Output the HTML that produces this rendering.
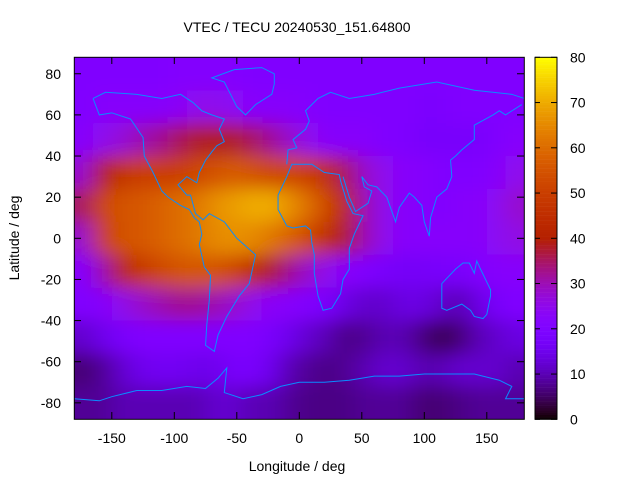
<!DOCTYPE html>
<html><head><meta charset="utf-8"><style>
body{margin:0;background:#fff;}
svg{display:block;font-family:"Liberation Sans",sans-serif;}
</style></head><body>
<svg id="chart" width="640" height="480" xmlns="http://www.w3.org/2000/svg">
<defs>
<filter id="soft" x="-20%" y="-20%" width="140%" height="140%"><feGaussianBlur stdDeviation="11 9"/></filter>
<clipPath id="plotclip"><rect x="74.3" y="57.3" width="450" height="362"/></clipPath>
</defs>
<rect width="640" height="480" fill="#fff"/>
<text x="297" y="32" font-size="14" text-anchor="middle">VTEC / TECU 20240530_151.64800</text>
<g clip-path="url(#plotclip)"><g id="cells" filter="url(#soft)"></g></g>
<g id="coast" fill="none" stroke="#0a8cff" stroke-width="1"></g>
<rect x="74.3" y="57.3" width="450" height="362" fill="none" stroke="#000"/>
<g id="axes" font-size="14"></g>
<g id="cbar"></g>
<text x="297" y="471" font-size="14" text-anchor="middle">Longitude / deg</text>
<text transform="translate(19,238) rotate(-90)" font-size="14" text-anchor="middle">Latitude / deg</text>
</svg>
<script>
const lonCenters=[-172.5,-157.5,-142.5,-127.5,-112.5,-97.5,-82.5,-67.5,-52.5,-37.5,-22.5,-7.5,7.5,22.5,37.5,52.5,67.5,82.5,97.5,112.5,127.5,142.5,157.5,172.5];
const latCenters=[80,64,48,32,16,0,-16,-32,-48,-64,-80];
const vtec=[
[20,20,20,20,20,21,21,21,21,20,20,20,20,20,20,20,20,20,20,20,20,20,20,20],
[20,22,22,22,22,23,25,25,24,22,22,22,21,20,20,20,20,20,19,19,20,20,20,20],
[22,25,27,30,32,35,38,38,38,35,32,28,25,22,22,22,20,20,18,18,18,18,20,22],
[28,40,47,50,50,50,52,55,57,55,52,52,50,45,35,28,25,22,22,20,20,20,22,25],
[35,52,55,56,58,60,62,66,68,70,70,66,60,52,42,30,25,22,22,20,22,22,24,28],
[28,50,55,56,58,60,62,65,66,65,62,58,52,45,38,30,25,22,22,22,22,22,24,26],
[22,30,42,48,52,55,56,55,52,45,38,32,28,25,22,20,18,17,17,18,18,20,22,22],
[20,22,25,28,30,32,32,30,28,25,23,22,20,18,14,12,12,14,14,12,10,14,18,20],
[12,15,18,20,20,20,20,20,20,20,18,15,12,10,7,8,10,10,7,4,6,10,12,14],
[6,8,12,15,16,16,15,15,18,18,15,10,8,7,8,10,12,12,10,10,12,12,12,10],
[8,8,10,10,10,10,10,12,12,10,10,8,7,7,7,8,8,8,6,6,7,8,8,8]];
const xTicks=[-150,-100,-50,0,50,100,150];
const yTicks=[80,60,40,20,0,-20,-40,-60,-80];
const cbTicks=[0,10,20,30,40,50,60,70,80];
const NS="http://www.w3.org/2000/svg";
const X=lon=>74.3+(lon+180)*450/360;
const Y=lat=>57.3+(88-lat)*362/176;
const CB=v=>419.3-v/80*362;
function pal(v){let x=Math.max(0,Math.min(1,v/80));
 let r=Math.sqrt(x),g=x*x*x,b=Math.max(0,Math.sin(2*Math.PI*x));
 return `rgb(${Math.round(r*255)},${Math.round(g*255)},${Math.round(b*255)})`;}
function mk(tag,at,parent){const e=document.createElementNS(NS,tag);for(const k in at)e.setAttribute(k,at[k]);parent.appendChild(e);return e;}
const cells=document.getElementById('cells');
const PAD=40;
latCenters.forEach((lat,i)=>lonCenters.forEach((lon,j)=>{
 let x0=X(lon-7.5),x1=X(lon+7.5)+0.5,y0=Y(lat+8),y1=Y(lat-8)+0.5;
 if(j===0)x0-=PAD; if(j===lonCenters.length-1)x1+=PAD;
 if(i===0)y0-=PAD; if(i===latCenters.length-1)y1+=PAD;
 const r=mk('rect',{x:x0,y:y0,width:x1-x0,height:y1-y0,fill:pal(vtec[i][j])},cells);
 
 
}));
const coastLines=[
[[-165,68],[-160,60],[-150,61],[-135,58],[-125,49],[-124,40],[-117,32],[-110,23],[-105,20],[-95,16],[-88,14],[-84,10],[-80,8],[-78,2],[-80,-3],[-76,-14],[-71,-18],[-72,-30],[-74,-42],[-75,-52],[-68,-55],[-65,-47],[-58,-38],[-48,-28],[-40,-22],[-35,-8],[-50,0],[-60,8],[-72,12],[-77,9],[-83,12],[-87,21],[-90,21],[-97,26],[-90,30],[-82,27],[-80,32],[-75,38],[-70,42],[-66,45],[-60,47],[-64,53],[-60,58],[-70,60],[-78,62],[-85,66],[-95,70],[-110,68],[-130,70],[-155,71],[-165,68]],
[[-17,21],[-17,14],[-10,6],[-5,5],[5,6],[9,4],[10,-2],[12,-8],[12,-17],[15,-28],[19,-35],[26,-34],[33,-27],[35,-20],[40,-15],[40,-5],[44,2],[51,11],[43,12],[38,18],[33,28],[32,31],[20,32],[10,36],[0,36],[-6,36],[-10,30],[-17,21]],
[[-10,36],[-9,43],[-2,44],[-5,48],[5,53],[8,57],[5,62],[15,68],[25,71],[40,68],[60,70],[80,73],[110,76],[140,72],[170,70],[180,68]],
[[35,30],[40,20],[45,13],[55,17],[58,23],[52,25],[50,30],[55,26],[62,25],[70,20],[77,8],[80,15],[88,22],[92,20],[98,16],[100,8],[104,1],[105,10],[108,16],[110,20],[118,24],[122,30],[121,38],[125,40],[130,43],[140,48],[140,55],[155,60],[160,62],[165,60],[178,65]],
[[114,-22],[114,-34],[118,-35],[130,-32],[137,-35],[140,-38],[147,-39],[150,-37],[153,-28],[153,-25],[145,-15],[142,-11],[140,-17],[136,-12],[131,-12],[125,-15],[114,-22]],
[[-180,-78],[-160,-79],[-150,-77],[-130,-74],[-110,-74],[-90,-72],[-75,-73],[-65,-68],[-58,-63],[-60,-75],[-45,-78],[-30,-76],[-15,-72],[0,-70],[20,-70],[40,-69],[60,-67],[80,-67],[100,-66],[120,-66],[140,-66],[160,-69],[170,-72],[165,-78],[180,-78]],
[[-52,82],[-30,83],[-20,80],[-20,75],[-22,70],[-35,65],[-43,60],[-50,64],[-55,70],[-60,76],[-70,78],[-52,82]]];
const coast=document.getElementById('coast');
coastLines.forEach(l=>{const p=mk('polyline',{points:l.map(q=>X(q[0])+','+Y(q[1])).join(' ')},coast);
 
 });
const axes=document.getElementById('axes');
xTicks.forEach(t=>{const x=X(t);
 const l=mk('line',{x1:x,y1:419.3,x2:x,y2:412,stroke:'#000'},axes);
 const l2=mk('line',{x1:x,y1:57.3,x2:x,y2:64,stroke:'#000'},axes);
 const tx=mk('text',{x:x,y:443,'text-anchor':'middle'},axes);tx.textContent=t;});
yTicks.forEach(t=>{const y=Y(t);
 const l=mk('line',{x1:74.3,y1:y,x2:81,y2:y,stroke:'#000'},axes);
 const l2=mk('line',{x1:524.3,y1:y,x2:517,y2:y,stroke:'#000'},axes);
 const tx=mk('text',{x:61,y:y+5,'text-anchor':'end'},axes);tx.textContent=t;});
const cb=document.getElementById('cbar');
for(let v=0;v<80;v+=0.5){const r=mk('rect',{x:535,y:CB(v+0.5),width:22,height:2.5,fill:pal(v+0.25)},cb);
 }
mk('rect',{x:535,y:57.3,width:22,height:362,fill:'none',stroke:'#000'},cb);
cbTicks.forEach(t=>{const y=CB(t);
 const l=mk('line',{x1:551,y1:y,x2:557,y2:y,stroke:'#000'},cb);
 const l2=mk('line',{x1:535,y1:y,x2:540,y2:y,stroke:'#000'},cb);
 const tx=mk('text',{x:570,y:y+5,'font-size':14},cb);tx.textContent=t;});
</script>
</body></html>
